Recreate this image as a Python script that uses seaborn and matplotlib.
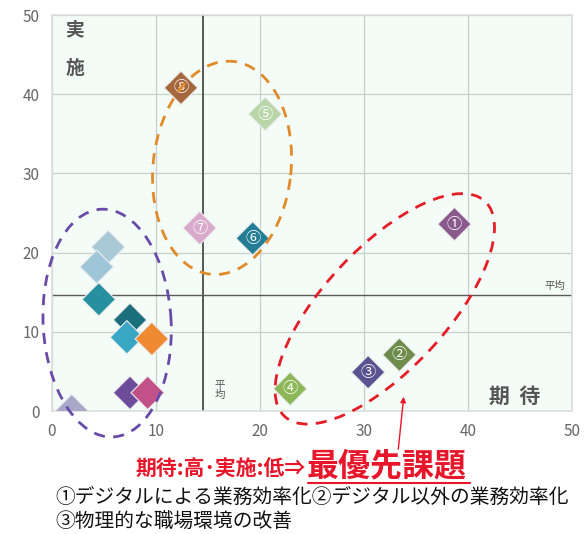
import numpy as np
import pandas as pd
import seaborn as sns
import matplotlib.pyplot as plt
from matplotlib.patches import Ellipse
from matplotlib.transforms import ScaledTranslation

# --- data ---
labels = ["①", "②", "③", "④", "⑤", "⑥", "⑦", "⑧",
          "", "", "", "", "", "", "", "", ""]
expect = [38.7, 33.4, 30.4, 22.9, 20.5, 19.3, 14.2, 12.4,
          5.4, 4.3, 4.5, 7.5, 7.2, 9.6, 7.5, 9.2, 1.9]
practice = [23.6, 7.1, 4.9, 2.8, 37.5, 21.8, 23.1, 40.8,
            20.7, 18.2, 14.1, 11.5, 9.3, 9.1, 2.3, 2.3, 0.0]
colors = ["#8a5a8c", "#6e8c4c", "#5b5290", "#8db85a", "#b9d6a9", "#237d94", "#d9aacb", "#a5683e",
          "#a9c9d6", "#9fc6d8", "#2690a0", "#1b6f7c", "#39a7c4", "#ef8a33", "#6d4c9c", "#c25189", "#a9a8c8"]
mean_x = 14.5
mean_y = 14.6
legend_lines = ["①デジタルによる業務効率化②デジタル以外の業務効率化",
                "③物理的な職場環境の改善"]

df = pd.DataFrame({"key": [f"p{i}" for i in range(len(expect))],
                   "期待": expect, "実施": practice, "label": labels})

sns.set_style("white")
plt.rcParams['font.family'] = ['Noto Sans CJK JP', 'DejaVu Sans']

fig = plt.figure(figsize=(5.87, 5.34), dpi=100)
ax = fig.add_axes([52/587, 1-411/534, 520/587, 396/534])
ax.set_facecolor("#f3fcf6")

ax.set_xlim(0, 50)
ax.set_ylim(0, 50)
ax.set_xticks(range(0, 51, 10))
ax.set_yticks(range(0, 51, 10))
ax.grid(True, color="#c9cfcb", lw=0.9)
ax.set_axisbelow(True)
ax.tick_params(axis="both", length=0, labelsize=11, labelcolor="#666666")
ax.tick_params(axis="x", pad=9)
ax.tick_params(axis="y", pad=9)
for s in ax.spines.values():
    s.set_color("#dcdfdc")
    s.set_linewidth(1.2)

ax.axvline(mean_x, color="#3c3c3c", lw=1.2, zorder=1)
ax.axhline(mean_y, color="#5a5a5a", lw=1.0, zorder=1)

sns.scatterplot(data=df, x="期待", y="実施", hue="key", palette=colors,
                marker="D", s=290, edgecolor="#eeeeee", linewidth=0.8,
                legend=False, ax=ax, zorder=3)
ax.set_xlabel("")
ax.set_ylabel("")

for x, y, t in zip(expect, practice, labels):
    if t:
        ax.text(x, y, t, ha="center", va="center", color="white",
                fontsize=11, zorder=4)

# dashed group ellipses (sizes in pixels, centred in data coords)
def ring(cx, cy, w, h, ang, col):
    tr = fig.dpi_scale_trans + ScaledTranslation(cx, cy, ax.transData)
    e = Ellipse((0, 0), w/100, h/100, angle=ang, transform=tr, fill=False,
                edgecolor=col, lw=2, linestyle=(0, (4, 3)), clip_on=False, zorder=5)
    ax.add_artist(e)

ring(16.35, 30.7, 214, 138, 84, "#e08a2a")
ring(5.3, 11.1, 228, 128, 93, "#6a4aa8")
ring(32.0, 12.9, 294, 122, 47, "#e41e26")

# corner labels
ax.text(0.044, 0.962, "実", transform=ax.transAxes, fontsize=13.5, fontweight="bold",
        color="#555555", ha="center", va="center")
ax.text(0.044, 0.866, "施", transform=ax.transAxes, fontsize=13.5, fontweight="bold",
        color="#555555", ha="center", va="center")
ax.text(0.89, 0.038, "期  待", transform=ax.transAxes, fontsize=15, fontweight="bold",
        color="#555555", ha="center", va="center")
ax.text(0.967, 0.316, "平均", transform=ax.transAxes, fontsize=7.5,
        color="#555555", ha="center", va="center")
ax.text(16.1, 2.6, "平\n均", fontsize=7.5, color="#555555", ha="center", va="center",
        linespacing=1.0)

# bottom annotation
red = "#e8162a"
fig.text(306/587, 1-469/534, "期待:高･実施:低⇒", color=red, fontsize=15,
         fontweight="bold", ha="right", va="center")
fig.text(307/587, 1-466/534, "最優先課題", color=red, fontsize=23,
         fontweight="bold", ha="left", va="center")
fig.add_artist(plt.Line2D([308/587, 470/587], [1-483/534, 1-483/534], color=red, lw=1.5))
ax.annotate("", xy=(404, 534-394), xycoords="figure pixels",
            xytext=(398, 534-452), textcoords="figure pixels",
            arrowprops=dict(arrowstyle="-|>", color=red, lw=1.0, mutation_scale=8))

fig.text(55/587, 1-497/534, legend_lines[0], color="#111111", fontsize=14.2,
         ha="left", va="center")
fig.text(55/587, 1-522/534, legend_lines[1], color="#111111", fontsize=14.2,
         ha="left", va="center")

fig.savefig("out.png", dpi=100)
